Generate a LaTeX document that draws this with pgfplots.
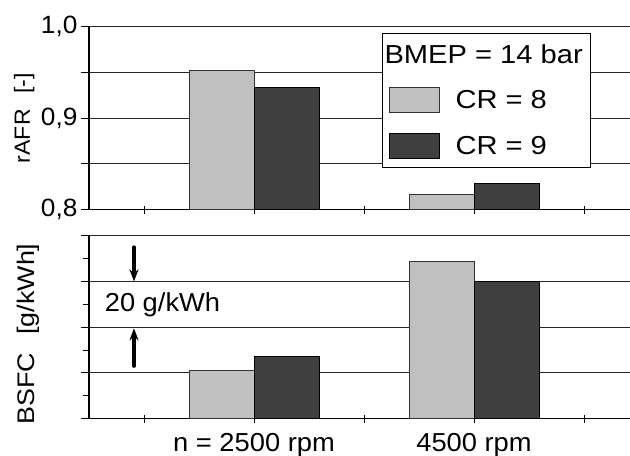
\documentclass[border=0pt]{standalone}
\usepackage{fontspec}
\setmainfont{Liberation Sans}[FakeStretch=1.05]
\newfontfamily\legfont{Liberation Sans}[FakeStretch=1.12]
\usepackage{pgfplots}
\usepackage{pgfplotstable}
\pgfplotsset{compat=1.18}
\usetikzlibrary{arrows.meta}
\definecolor{lightbar}{HTML}{C0C0C0}
\definecolor{darkbar}{HTML}{404040}
\newcommand{\fs}[1]{\fontsize{#1bp}{#1bp}\selectfont}

\pgfplotstableread{
x cr8 cr9
1 0.952 0.934
2 0.817 0.829
}\rafr
\pgfplotstableread{
x cr8 cr9
1 21.1 27.4
2 68.9 60.0
}\bsfc

\pgfplotsset{common/.style={
  scale only axis, width=541bp, height=183bp,
  xmin=0.25, xmax=2.709,
  axis x line*=bottom, axis y line*=left,
  xtick={0.5,1,1.5,2,2.5},
  tick align=outside, major tick length=8bp, minor tick length=6bp,
  ymajorgrids, major grid style={black!85, line width=1bp},
  axis line style={black, line width=1.2bp},
  tick style={black, line width=1bp},
  xtick style={yshift=4bp},
  ybar, bar width=65bp,
  enlargelimits=false,
  tick label style={font=\fs{25}},
  label style={font=\fs{22}},
},
barleg/.style={legend image code/.code={\draw[##1] (0bp,-12.5bp) rectangle (50bp,12.5bp);}}
}

\begin{document}
\begin{tikzpicture}
\useasboundingbox (0,0) rectangle (630bp,-456bp);
\begin{axis}[common, at={(89bp,-26.7bp)}, anchor=north west,
  ymin=0.8, ymax=1.0,
  ytick={0.8,0.85,0.9,0.95,1.0},
  yticklabels={{0,8},{},{0,9},{},{1,0}},
  xticklabels={},
  ylabel={rAFR\hspace{0.7em}[-]},
  ylabel style={at={(axis description cs:-0.12,0.5)}, anchor=center},
  legend style={at={(rel axis cs:0.5416,0.9656)}, anchor=north west,
    draw=black, line width=1bp, fill=white, font=\legfont\fs{26},
    inner xsep=6bp, inner ysep=9bp, row sep=20bp,
    /tikz/every odd column/.append style={column sep=14bp}},
  legend cell align=left,
]
\addlegendimage{empty legend}
\addlegendentry{\hspace*{-71bp}BMEP = 14 bar}
\addplot[fill=lightbar, draw=black!80, line width=1bp, bar shift=-32.5bp, barleg]
  table[x=x,y=cr8]{\rafr};
\addlegendentry{CR = 8}
\addplot[fill=darkbar, draw=black, line width=1bp, bar shift=32.5bp, barleg]
  table[x=x,y=cr9]{\rafr};
\addlegendentry{CR = 9}
\end{axis}

\begin{axis}[common, at={(89bp,-235.7bp)}, anchor=north west,
  ymin=0, ymax=80,
  ytick={0,20,40,60,80}, minor ytick={10,30,50,70},
  yticklabels={},
  xticklabels={{},{n = 2500 rpm},{},{4500 rpm},{}},
  xticklabel style={font=\fs{26}, yshift=-3bp},
  ylabel={BSFC\hspace{0.75em}[g/kWh]},
  ylabel style={font=\legfont\fs{24}, at={(axis description cs:-0.113,0.463)}, anchor=center},
]
\addplot[fill=lightbar, draw=black!80, line width=1bp, bar shift=-32.5bp]
  table[x=x,y=cr8]{\bsfc};
\addplot[fill=darkbar, draw=black, line width=1bp, bar shift=32.5bp]
  table[x=x,y=cr9]{\bsfc};
\draw[line width=3.5bp, line cap=round, -{Stealth[length=12bp,width=9bp]}]
  (axis cs:0.4545,75) -- (axis cs:0.4545,60);
\draw[line width=3.5bp, line cap=round, -{Stealth[length=12bp,width=9bp]}]
  (axis cs:0.4545,23) -- (axis cs:0.4545,39.5);
\node[font=\fs{26}] at (axis cs:0.584,49.6) {20 g/kWh};
\end{axis}
\end{tikzpicture}
\end{document}
